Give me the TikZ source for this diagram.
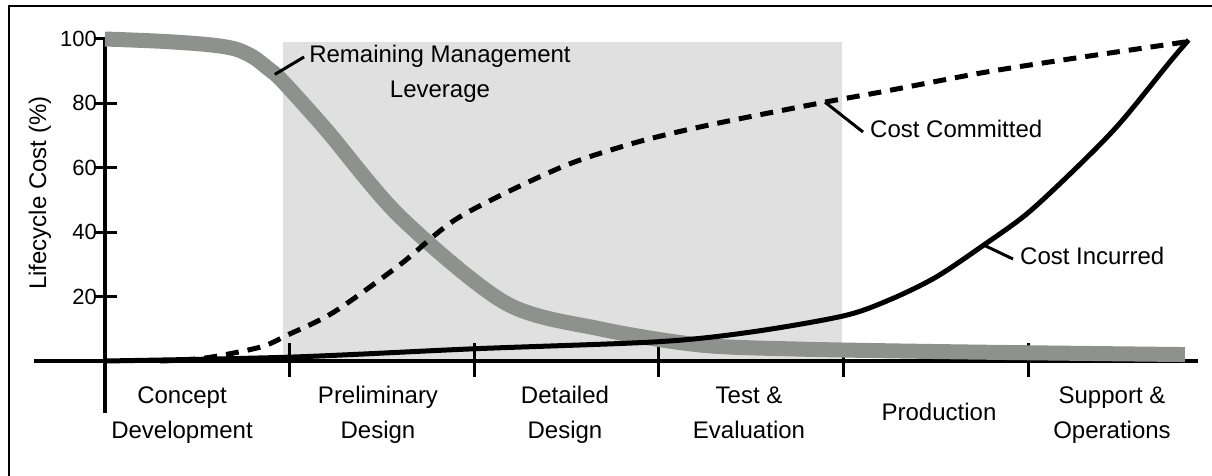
\documentclass[tikz,border=0pt]{standalone}
\usepackage{fontspec}
\setmainfont{Liberation Sans}
\usepackage{tikz}
\usetikzlibrary{calc}

\definecolor{levgray}{RGB}{143,145,140}
\definecolor{boxgray}{RGB}{224,224,224}

\begin{document}
\begin{tikzpicture}[x=1pt,y=-1pt]
\tikzstyle{axis}=[draw=black,line width=4pt];
\tikzstyle{tk}=[draw=black,line width=3pt];
\tikzstyle{lbl}=[font=\fontsize{24}{35}\selectfont,inner sep=0pt];
\tikzstyle{phase}=[lbl,align=center,anchor=base];
\tikzstyle{num}=[font=\fontsize{22}{24}\selectfont,inner sep=0pt,anchor=east];
\tikzstyle{leverage}=[draw=levgray,line width=15pt];
\tikzstyle{committed}=[draw=black,line width=5pt,dash pattern=on 13pt off 9pt];
\tikzstyle{incurred}=[draw=black,line width=5pt];
\tikzstyle{leader}=[draw=black,line width=3pt];
\useasboundingbox (0,0) rectangle (1212,476);
\fill [white] (0,0) rectangle (1212,476);
\draw [line width=2.5pt] (9,476) -- (9,6) -- (1212,6);
% design window
\fill [boxgray] (283,42) rectangle (842,361);
% axes
\draw [axis] (34,361) -- (1198,361);
\draw [axis] (105,413) -- (105,37);
\foreach \p in {20,40,60,80,100} {
  \draw [tk] (94,{361-3.22*\p}) -- (117,{361-3.22*\p});
  \node [num] (n\p) at (97,{361-3.22*\p}) {\p};
}
\foreach \i in {1,...,5}
  \draw [tk] ({105+184.6*\i},343) -- ({105+184.6*\i},377);
\node [lbl,rotate=90] (ylbl) at (40,193) {Lifecycle Cost (\%)};
% curves, phase on x, percent on y
\begin{scope}[shift={(105,361)},x=184.6pt,y=3.22pt]
\draw [leverage] plot [smooth] coordinates {(0,100) (0.3,99.3) (0.55,98.3) (0.7,97) (0.8,94.5) (0.88,91) (0.96,87) (1.2,71.7) (1.6,44.7) (2.17,18) (2.68,10) (3.22,5) (3.76,3.7) (4.67,2.8) (5.85,2)};
\draw [committed] plot [smooth] coordinates {(0.3,0) (0.54,0.9) (0.84,4.3) (0.99,8.1) (1.24,15.2) (1.6,30) (1.92,44.7) (2.46,59.9) (2.83,67.1) (3.1,71.1) (3.4,74.8) (3.9,80.4) (4.2,83.5) (4.74,89.4) (5.19,93.5) (5.89,99.4)};
\draw [incurred] plot [smooth] coordinates {(0,0) (1,1.2) (2,3.8) (3,6) (3.5,9) (4,14) (4.25,19) (4.5,26) (4.76,36) (5,46) (5.28,61) (5.5,74) (5.77,93) (5.87,99.7)};
\coordinate (levpt) at (0.92,89);
\coordinate (compt) at (3.9,80.4);
\coordinate (incpt) at (4.76,36);
\end{scope}
% curve labels
\node [lbl,align=center,anchor=base] (levlbl) at (440,98) {Remaining Management\\Leverage};
\node [lbl,anchor=base west] (comlbl) at (870,138) {Cost Committed};
\node [lbl,anchor=base west] (inclbl) at (1020,264) {Cost Incurred};
\draw [leader] (levpt) -- ($(levlbl.base west)+(-5,-41)$);
\draw [leader] (compt) -- ($(comlbl.base west)+(-7,-6)$);
\draw [leader] (incpt) -- ($(inclbl.base west)+(-7,-5)$);
% phases
\node [phase] (concept) at (182,438) {Concept\\Development};
\node [phase] (prelim) at (378,438) {Preliminary\\Design};
\node [phase] (detail) at (565,438) {Detailed\\Design};
\node [phase] (test) at (749,438) {Test \&\\Evaluation};
\node [lbl,anchor=base] (prod) at (939,420) {Production};
\node [phase] (support) at (1112,438) {Support \&\\Operations};
\end{tikzpicture}
\end{document}
